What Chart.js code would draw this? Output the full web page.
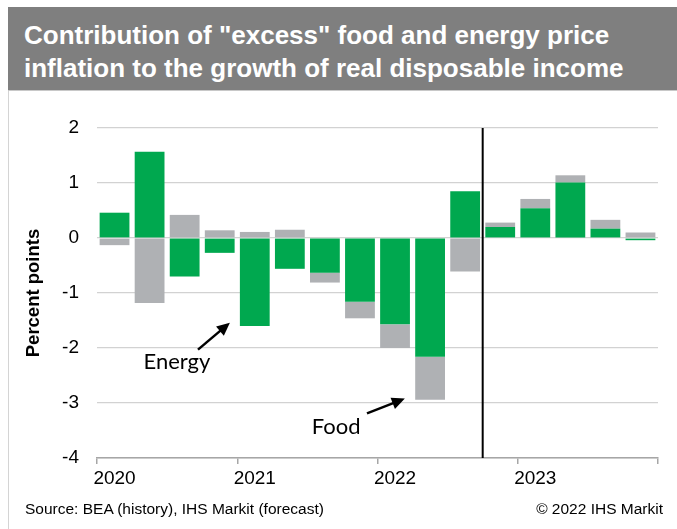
<!DOCTYPE html>
<html>
<head>
<meta charset="utf-8">
<script src="https://cdn.jsdelivr.net/npm/chart.js@4"></script>
<style>
  body { margin: 0; background: #fff; }
  #wrap { position: relative; width: 677px; height: 529px; overflow: hidden; font-family: "Liberation Sans", Arial, sans-serif; }
  #frame { position: absolute; left: 8px; top: 7px; width: 669px; height: 522px; border-left: 1px solid #d4d4d4; }
  #header { position: absolute; left: 8px; top: 7px; width: 669px; height: 83px; background: #7f7f7f; border-bottom: 1px solid #c8c8c8; }
  #header div { color: #fff; font-weight: bold; font-size: 26px; line-height: 33px; padding: 12px 0 0 16px; }
  #chart { position: absolute; left: 0; top: 0; }
  .foot { position: absolute; top: 500px; font-size: 15.5px; color: #000; }
</style>
</head>
<body>
<div id="wrap">
  <div id="frame"></div>
  <canvas id="chart" width="677" height="529"></canvas>
  <div id="header"><div>Contribution of "excess" food and energy price<br>inflation to the growth of real disposable income</div></div>
  <div class="foot" style="left:25px">Source: BEA (history), IHS Markit (forecast)</div>
  <div class="foot" style="right:14px">© 2022 IHS Markit</div>
</div>
<script>
const quarters = ['2020Q1', '2020Q2', '2020Q3', '2020Q4', '2021Q1', '2021Q2', '2021Q3', '2021Q4',
  '2022Q1', '2022Q2', '2022Q3', '2022Q4', '2023Q1', '2023Q2', '2023Q3', '2023Q4'];
const energy = [0.46, 1.57, -0.70, -0.27, -1.60, -0.56, -0.63, -1.16, -1.57, -2.16, 0.85, 0.20, 0.54, 1.01, 0.17, -0.04];
const food = [-0.13, -1.18, 0.42, 0.14, 0.11, 0.15, -0.18, -0.30, -0.43, -0.78, -0.61, 0.08, 0.17, 0.13, 0.16, 0.10];
const yMin = -4;
const yMax = 2;
const forecastStart = '2022Q4';

// labels with arrows, in category index / value units
const notes = [
  { text: 'Energy', x: 1.78, y: -2.26, from: [2.38, -2.03], to: [3.29, -1.54] },
  { text: 'Food', x: 6.32, y: -3.44, from: [7.2, -3.19], to: [8.28, -2.92] }
];

const extras = {
  id: 'extras',
  afterDatasetsDraw(chart) {
    const ctx = chart.ctx;
    const xs = chart.scales.x;
    const ys = chart.scales.y;
    const area = chart.chartArea;
    const i = quarters.indexOf(forecastStart);
    const lx = (xs.getPixelForValue(i - 1) + xs.getPixelForValue(i)) / 2;
    ctx.save();
    ctx.strokeStyle = '#000';
    ctx.lineWidth = 2;
    ctx.beginPath();
    ctx.moveTo(lx, area.top);
    ctx.lineTo(lx, area.bottom);
    ctx.stroke();

    const px = v => xs.getPixelForValue(0) + v * (xs.getPixelForValue(1) - xs.getPixelForValue(0));
    ctx.fillStyle = '#000';
    ctx.font = '22px Lato, "Open Sans", sans-serif';
    ctx.textAlign = 'center';
    ctx.textBaseline = 'middle';
    notes.forEach(n => {
      ctx.fillText(n.text, px(n.x), ys.getPixelForValue(n.y));
      const x1 = px(n.from[0]), y1 = ys.getPixelForValue(n.from[1]);
      const x2 = px(n.to[0]), y2 = ys.getPixelForValue(n.to[1]);
      const ang = Math.atan2(y2 - y1, x2 - x1);
      const head = 13;
      ctx.lineWidth = 2.5;
      ctx.beginPath();
      ctx.moveTo(x1, y1);
      ctx.lineTo(x2 - head * 0.8 * Math.cos(ang), y2 - head * 0.8 * Math.sin(ang));
      ctx.stroke();
      ctx.beginPath();
      ctx.moveTo(x2, y2);
      ctx.lineTo(x2 - head * Math.cos(ang) + 6 * Math.sin(ang), y2 - head * Math.sin(ang) - 6 * Math.cos(ang));
      ctx.lineTo(x2 - head * Math.cos(ang) - 6 * Math.sin(ang), y2 - head * Math.sin(ang) + 6 * Math.cos(ang));
      ctx.closePath();
      ctx.fill();
    });
    ctx.restore();
  }
};

function drawChart() {
  const ctx = document.getElementById('chart').getContext('2d');
  new Chart(ctx, {
    type: 'bar',
    data: {
      labels: quarters,
      datasets: [
        { label: 'Energy', data: energy, backgroundColor: '#00a84f', barPercentage: 0.85, categoryPercentage: 1 },
        { label: 'Food', data: food, backgroundColor: '#afb1b4', barPercentage: 0.85, categoryPercentage: 1 }
      ]
    },
    options: {
      responsive: false,
      animation: false,
      layout: { padding: { top: 128, right: 19, bottom: 31, left: 0 } },
      plugins: { legend: { display: false }, tooltip: { enabled: false } },
      scales: {
        x: {
          stacked: true,
          offset: true,
          afterFit: s => { s.height = 40; },
          border: { display: true, color: '#a6a6a6', width: 1.5 },
          grid: {
            offset: true,
            drawOnChartArea: false,
            drawTicks: true,
            tickLength: 6,
            lineWidth: 1.5,
            color: c => (c.index === undefined || c.index % 4 === 0) ? '#a6a6a6' : 'rgba(0,0,0,0)'
          },
          ticks: {
            autoSkip: false,
            maxRotation: 0,
            padding: 3,
            color: '#000',
            font: { family: '"Liberation Sans", Arial', size: 19 },
            callback: (v, i) => quarters[i].endsWith('Q1') ? quarters[i].slice(0, 4) : ''
          }
        },
        y: {
          stacked: true,
          min: yMin,
          max: yMax,
          afterFit: s => { s.width = 97; },
          border: { display: false },
          grid: { color: '#d2d2d2', lineWidth: 1.2, drawTicks: false },
          ticks: {
            stepSize: 1,
            padding: 18,
            color: '#000',
            font: { family: '"Liberation Sans", Arial', size: 19 }
          },
          title: {
            display: true,
            text: 'Percent points',
            color: '#000',
            padding: { top: 23, bottom: 0 },
            font: { family: '"Liberation Sans", Arial', size: 18.5, weight: 'bold' }
          }
        }
      }
    },
    plugins: [extras]
  });
}

window.onload = drawChart;
</script>
</body>
</html>
